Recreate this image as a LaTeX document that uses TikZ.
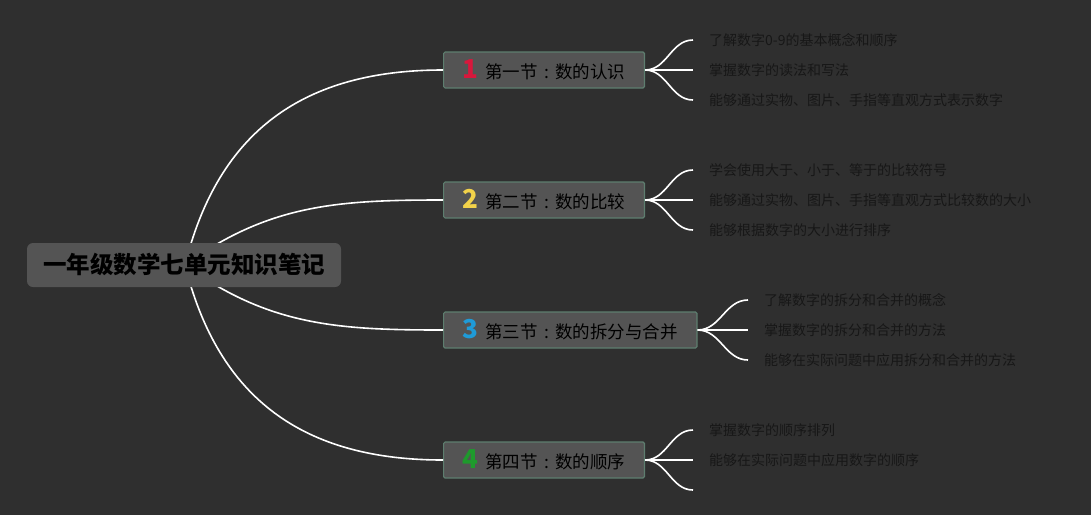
\documentclass[tikz,border=0pt]{standalone}
\usepackage{fontspec}
\newfontfamily\cjk{Noto Sans CJK SC}
\usetikzlibrary{positioning}
\definecolor{bgdark}{HTML}{2F2F2F}
\definecolor{boxgray}{HTML}{545454}
\definecolor{boxedge}{HTML}{5E7E6F}
\definecolor{leaftext}{HTML}{171717}
\definecolor{numred}{HTML}{D8173C}
\definecolor{numyellow}{HTML}{F2D24A}
\definecolor{numblue}{HTML}{1F9BD8}
\definecolor{numgreen}{HTML}{1E9A2C}
\newcommand{\numtag}[2]{{\fontsize{26}{26}\selectfont\bfseries\color{#1}#2}\hspace{7pt}}
\newcommand{\colonmark}{\makebox[1em]{:}}

\begin{document}
\begin{tikzpicture}[x=1pt,y=-1pt,
    root/.style={fill=boxgray,rounded corners=6pt,inner xsep=16pt,minimum height=44pt,
        font=\cjk\bfseries\fontsize{23.5}{24}\selectfont,text=black},
    section/.style={anchor=west,fill=boxgray,draw=boxedge,line width=1.2pt,rounded corners=1.5pt,
        inner xsep=19pt,minimum height=36pt,font=\cjk\fontsize{17.5}{18}\selectfont,text=black},
    leaf/.style={anchor=west,inner xsep=16pt,inner ysep=0pt,font=\cjk\fontsize{14}{14}\selectfont,text=leaftext},
    branch/.style={draw=white,line width=1.6pt}]
    \fill[bgdark] (0,0) rectangle (1091,515);
    \useasboundingbox (0,0) rectangle (1091,515);

    \node[section] (s1) at (443,70) {\numtag{numred}{1}第一节\colonmark 数的认识};
    \node[section] (s2) at (443,200) {\numtag{numyellow}{2}第二节\colonmark 数的比较};
    \node[section] (s3) at (443,330) {\numtag{numblue}{3}第三节\colonmark 数的拆分与合并};
    \node[section] (s4) at (443,460) {\numtag{numgreen}{4}第四节\colonmark 数的顺序};

    \node[leaf] (l11) at (693,40) {了解数字0-9的基本概念和顺序};
    \node[leaf] (l12) at (693,70) {掌握数字的读法和写法};
    \node[leaf] (l13) at (693,100) {能够通过实物、图片、手指等直观方式表示数字};
    \node[leaf] (l21) at (693,170) {学会使用大于、小于、等于的比较符号};
    \node[leaf] (l22) at (693,200) {能够通过实物、图片、手指等直观方式比较数的大小};
    \node[leaf] (l23) at (693,230) {能够根据数字的大小进行排序};
    \node[leaf] (l31) at (748,300) {了解数字的拆分和合并的概念};
    \node[leaf] (l32) at (748,330) {掌握数字的拆分和合并的方法};
    \node[leaf] (l33) at (748,360) {能够在实际问题中应用拆分和合并的方法};
    \node[leaf] (l41) at (693,430) {掌握数字的顺序排列};
    \node[leaf] (l42) at (693,460) {能够在实际问题中应用数字的顺序};
    \coordinate (l43) at (693,490);

    \foreach \s/\a/\b/\c in {s1/l11/l12/l13,s2/l21/l22/l23,s3/l31/l32/l33,s4/l41/l42/l43}{
        \draw[branch] (\s.east) to[out=0,in=180] (\a.west);
        \draw[branch] (\s.east) -- (\b.west);
        \draw[branch] (\s.east) to[out=0,in=180] (\c.west);
    }

    \coordinate (rc) at (185,265);
    \draw[branch] (rc) to[out=76,in=180,looseness=1.1] (s1.west);
    \draw[branch] (rc) to[out=36,in=180] (s2.west);
    \draw[branch] (rc) to[out=-36,in=180] (s3.west);
    \draw[branch] (rc) to[out=-76,in=180,looseness=1.1] (s4.west);

    \node[root] (main) at (184,265) {一年级数学七单元知识笔记};
\end{tikzpicture}
\end{document}
